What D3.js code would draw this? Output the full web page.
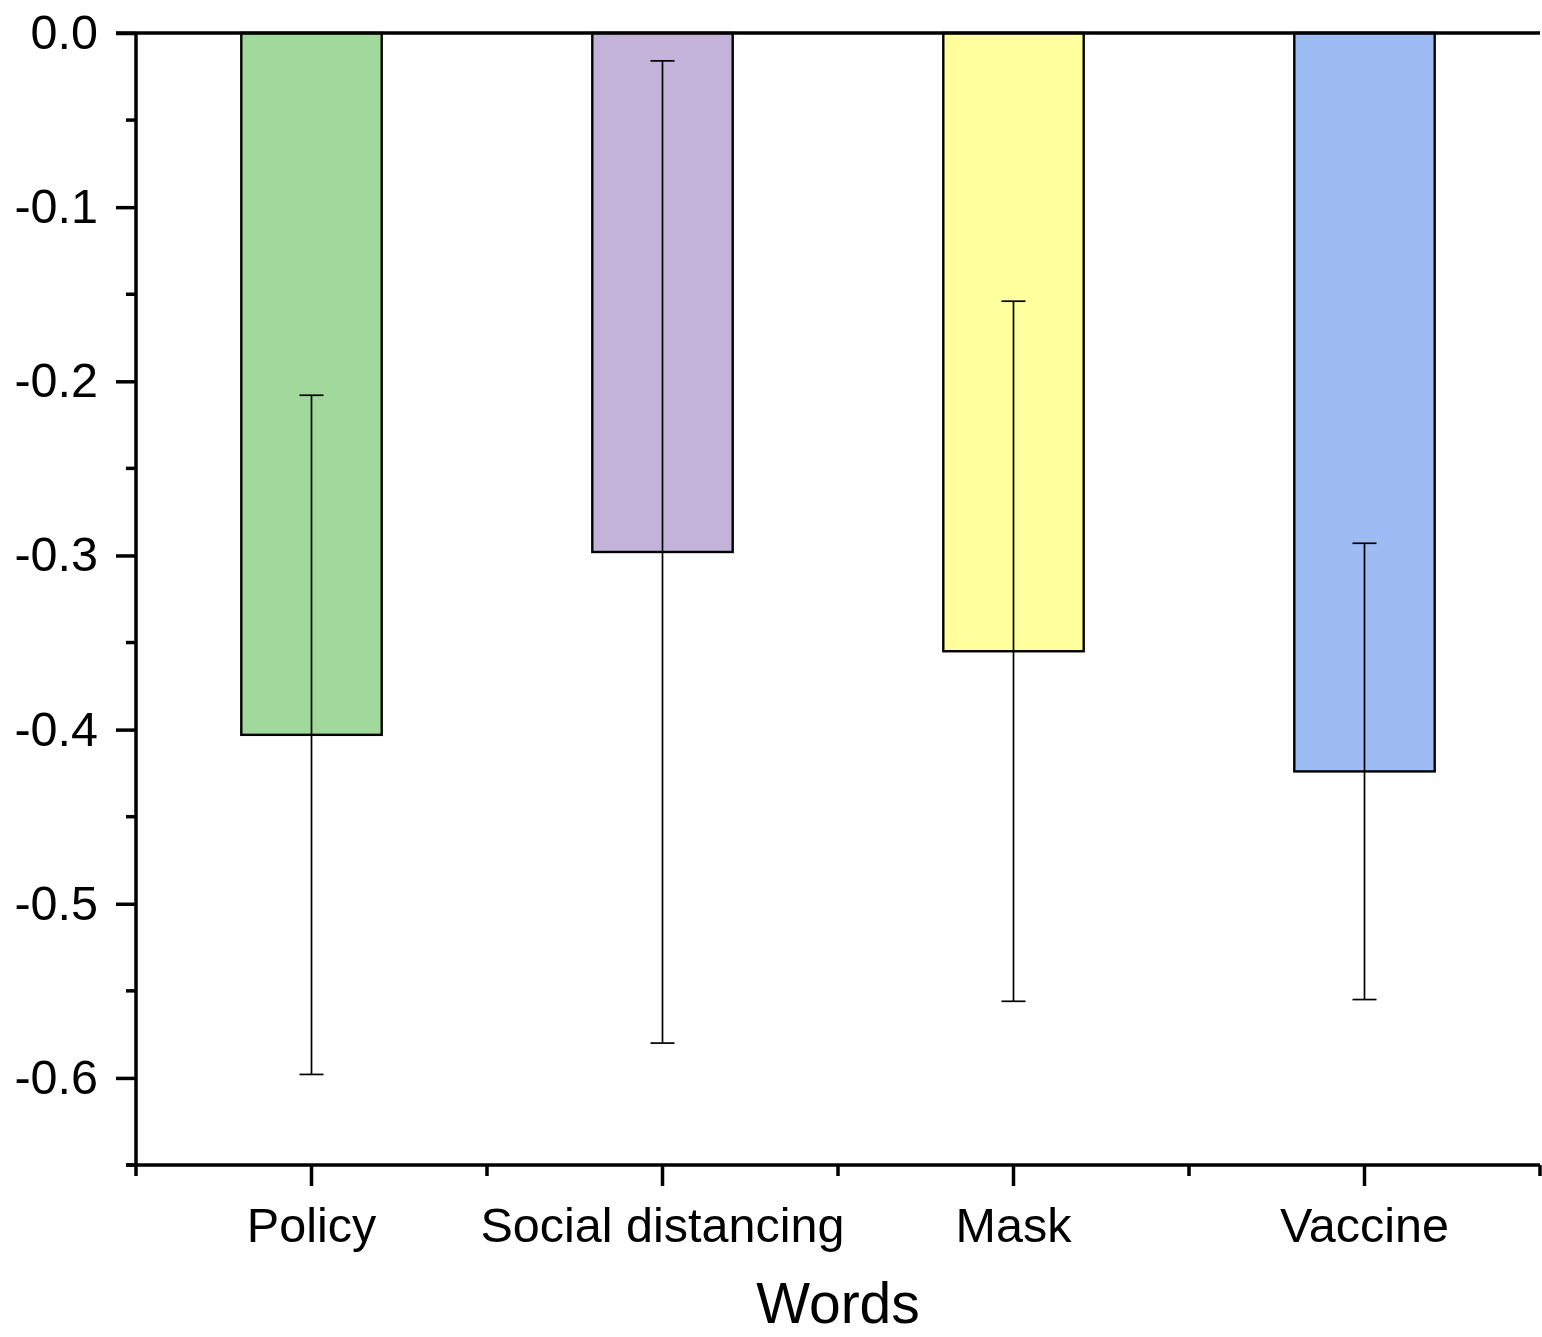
<!DOCTYPE html>
<html><head><meta charset="utf-8">
<script src="https://cdn.jsdelivr.net/npm/d3@7"></script>
<style>body{margin:0;background:#fff}svg{display:block}text{font-family:"Liberation Sans",Arial,sans-serif}</style>
</head><body><svg id="c" width="1542" height="1337"></svg>
<script>
const categories = ["Policy","Social distancing","Mask","Vaccine"];
const means = [-0.403, -0.298, -0.355, -0.424];
const errors = [0.195, 0.282, 0.201, 0.131];
const colors = ["#a0d99b","#c3b3d8","#ffff9d","#9dbcf4"];
const yTicks = [0.0,-0.1,-0.2,-0.3,-0.4,-0.5,-0.6];

const svg = d3.select("#c");
const L=136, R=1540, T=33, B=1165;
const x = d3.scaleBand().domain(categories).range([L,R]).paddingInner(0).paddingOuter(0);
const y = d3.scaleLinear().domain([-0.65,0]).range([B,T]);
const bw = x.bandwidth()*0.4;

const g = svg.append("g");
g.selectAll("rect.bar").data(categories).enter().append("rect")
  .attr("x",(d)=>x(d)+x.bandwidth()/2-bw/2)
  .attr("y",y(0))
  .attr("width",bw)
  .attr("height",(d,i)=>y(means[i])-y(0))
  .attr("fill",(d,i)=>colors[i]).attr("stroke","#000").attr("stroke-width",2.4);
const cap=12;
categories.forEach((c,i)=>{
  const cx=x(c)+x.bandwidth()/2;
  const y1=y(means[i]+errors[i]), y2=y(means[i]-errors[i]);
  g.append("line").attr("x1",cx).attr("x2",cx).attr("y1",y1).attr("y2",y2).attr("stroke","#000").attr("stroke-width",1.7);
  [y1,y2].forEach(yy=>g.append("line").attr("x1",cx-cap).attr("x2",cx+cap).attr("y1",yy).attr("y2",yy).attr("stroke","#000").attr("stroke-width",1.7));
});
svg.append("line").attr("x1",116).attr("x2",R).attr("y1",y(0)).attr("y2",y(0)).attr("stroke","#000").attr("stroke-width",3.5);
const ya = svg.append("g").attr("transform",`translate(${L},0)`)
  .call(d3.axisLeft(y).tickValues(yTicks).tickFormat(d3.format(".1f")).tickSize(20).tickPadding(18));
ya.select(".domain").attr("stroke-width",3.5).attr("d",`M0,${T}V${B}`);
ya.selectAll(".tick line").attr("stroke-width",3.5);
ya.selectAll(".tick text").attr("font-size",48.5).attr("fill","#000").text(d=>d3.format(".1f")(d).replace("−","-"));
const minorY = d3.range(-0.05,-0.66,-0.1);
svg.append("g").selectAll("line").data(minorY).enter().append("line")
  .attr("x1",L-10).attr("x2",L).attr("y1",d=>y(d)).attr("y2",d=>y(d)).attr("stroke","#000").attr("stroke-width",3.5);
const xa = svg.append("g").attr("transform",`translate(0,${B})`)
  .call(d3.axisBottom(x).tickSize(21).tickPadding(22));
xa.select(".domain").attr("stroke-width",3.5).attr("d",`M${L-10},0H${R}`);
xa.selectAll(".tick line").attr("stroke-width",3.5);
xa.selectAll(".tick text").attr("font-size",48.5).attr("fill","#000");
const edges = categories.map(c=>x(c)).concat([R]);
svg.append("g").selectAll("line").data(edges).enter().append("line")
  .attr("x1",d=>d).attr("x2",d=>d).attr("y1",B).attr("y2",B+11).attr("stroke","#000").attr("stroke-width",3.5);
svg.append("text").attr("x",(L+R)/2).attr("y",1323).attr("text-anchor","middle").attr("font-size",57).text("Words");
</script></body></html>
